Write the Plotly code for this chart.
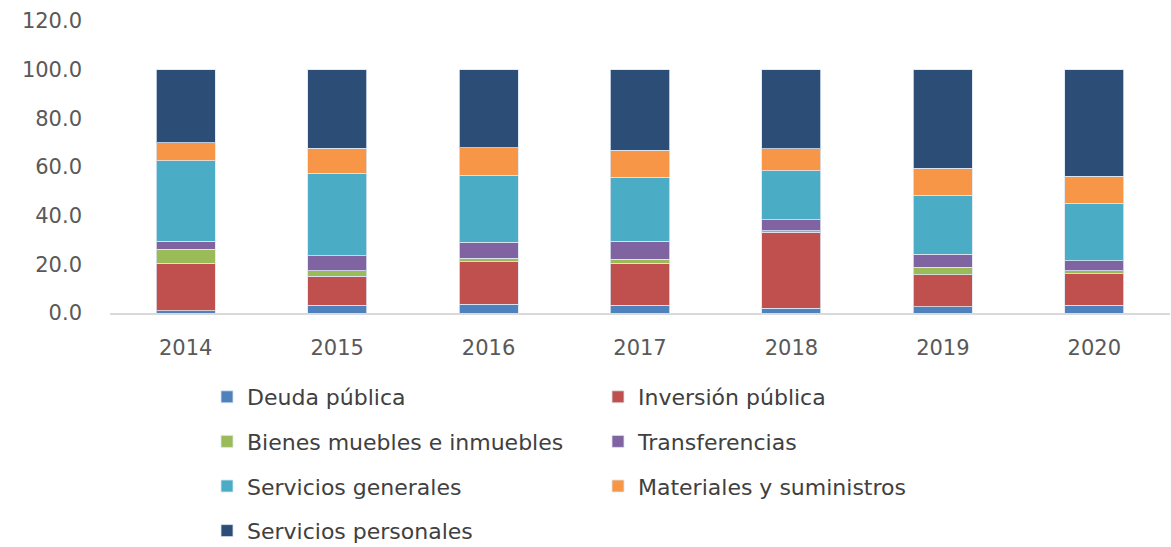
import plotly.graph_objects as go

years = ["2014", "2015", "2016", "2017", "2018", "2019", "2020"]
deuda = [0.9, 3.1, 3.5, 3.1, 2.0, 2.6, 3.1]
inversion = [19.6, 12.1, 17.5, 17.4, 31.1, 13.1, 13.1]
bienes = [5.7, 2.2, 1.6, 1.5, 0.7, 3.2, 1.2]
transferencias = [3.2, 6.2, 6.4, 7.4, 4.6, 5.3, 4.1]
serv_generales = [33.2, 33.8, 27.7, 26.4, 20.0, 24.2, 23.7]
materiales = [7.4, 10.4, 11.2, 11.1, 9.0, 11.1, 11.0]
serv_personales = [30.0, 32.2, 32.1, 33.1, 32.6, 40.5, 43.8]
y_ticks = [0, 20, 40, 60, 80, 100, 120]

series = [
    ("Deuda pública", deuda, "#4F81BD", "legend"),
    ("Inversión pública", inversion, "#C0504D", "legend2"),
    ("Bienes muebles e inmuebles", bienes, "#9BBB59", "legend"),
    ("Transferencias", transferencias, "#8064A2", "legend2"),
    ("Servicios generales", serv_generales, "#4BACC6", "legend"),
    ("Materiales y suministros", materiales, "#F79646", "legend2"),
    ("Servicios personales", serv_personales, "#2C4D75", "legend"),
]

fig = go.Figure()
for i, (name, vals, color, leg) in enumerate(series):
    fig.add_trace(go.Bar(
        x=years, y=vals, name=name, legend=leg, legendgroup=f"g{i}",
        marker=dict(color=color, line=dict(color="rgba(220,230,242,0.8)", width=1)),
    ))

tick_font = dict(family="DejaVu Sans", size=21, color="#595959")
leg_font = dict(family="DejaVu Sans", size=22, color="#404040")

fig.update_layout(
    width=1171, height=547,
    barmode="stack", bargap=0.61,
    plot_bgcolor="white", paper_bgcolor="white",
    margin=dict(l=110, r=1, t=21, b=234, autoexpand=False),
    xaxis=dict(showline=True, linecolor="#D9D9D9", linewidth=2, ticks="",
               tickfont=tick_font, showgrid=False, tickangle=0, automargin=False,
               ticklabelstandoff=15),
    yaxis=dict(range=[0, 120], tickvals=y_ticks, tickformat=".1f", showgrid=False,
               zeroline=False, showline=False, tickfont=tick_font,
               ticklabelstandoff=27, automargin=False),
    legend=dict(xref="container", yref="container", x=207/1171, y=1-376/547,
                xanchor="left", yanchor="top", orientation="v",
                font=leg_font, tracegroupgap=13, traceorder="grouped",
                bgcolor="rgba(0,0,0,0)"),
    legend2=dict(xref="container", yref="container", x=598/1171, y=1-376/547,
                 xanchor="left", yanchor="top", orientation="v",
                 font=leg_font, tracegroupgap=13, traceorder="grouped",
                 bgcolor="rgba(0,0,0,0)"),
)

fig.write_html("out.html", config={"displayModeBar": False},
               post_script="document.body.style.margin='0';")
